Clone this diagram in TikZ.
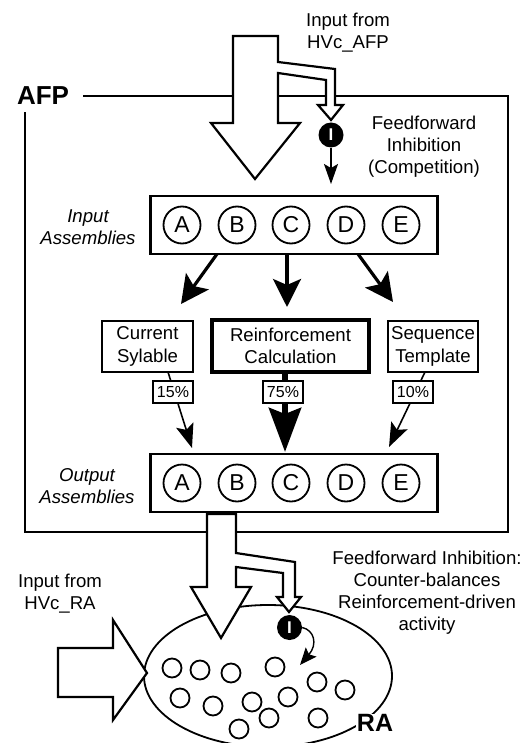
\documentclass[tikz,border=0pt]{standalone}
\usepackage{fontspec}
\setmainfont{Liberation Sans}
\usetikzlibrary{arrows.meta}

\begin{document}
\begin{tikzpicture}[x=1pt,y=-1pt,
  txt/.style={font=\fontsize{18.6}{22}\selectfont, align=center, inner sep=0pt},
  itxt/.style={txt, font=\fontsize{18.6}{22.5}\selectfont\itshape},
  big/.style={font=\fontsize{26}{28}\selectfont\bfseries, inner sep=1pt},
  asm/.style={draw, line width=2.2pt, fill=white, minimum width=287pt, minimum height=58pt, inner sep=0pt},
  unit/.style={draw, circle, line width=1.8pt, minimum size=37pt, inner sep=0pt, font=\fontsize{23}{23}\selectfont},
  module/.style={draw, line width=2.2pt, fill=white, align=center, inner sep=0pt, font=\fontsize{18.6}{22.5}\selectfont},
  pct/.style={draw, line width=1.4pt, fill=white, minimum width=40pt, minimum height=22pt, inner sep=0pt, font=\fontsize{16}{16}\selectfont},
  inh/.style={circle, fill=black, minimum size=25pt, inner sep=0pt, text=white, font=\fontsize{17}{17}\selectfont\bfseries},
  cell/.style={draw, circle, line width=1.8pt, minimum size=19pt, inner sep=0pt},
  hollow/.style={draw, line width=2.2pt, fill=white, line join=miter},
  fatarrow/.style={line width=3.2pt, -{Stealth[length=28pt, width=28pt, inset=6pt]}},
  heavyarrow/.style={line width=6.5pt, -{Stealth[length=44pt, width=32pt, inset=6pt]}},
  thinarrow/.style={line width=1.6pt, -{Stealth[length=24pt, width=18pt, inset=5pt]}},
  smallarrow/.style={line width=1.4pt, -{Stealth[length=20pt, width=14pt, inset=4pt]}},
  curlarrow/.style={line width=1.4pt, -{Stealth[length=17pt, width=14pt, inset=3pt]}}
]
\useasboundingbox (0,0) rectangle (524,743);

% ---------- AFP frame ----------
\node[big] (afp) at (43,96) {AFP};
\draw[line width=1.8pt] (83,96) -- (508,96) -- (508,532) -- (25,532) -- (25,112);

% ---------- input from HVc_AFP ----------
\node[txt] (hvcafp) at (348,33) {Input from\\HVc\_AFP};
\draw[hollow] (233,36) -- (278,36) -- (278,62) -- (335,69) -- (335,105)
  -- (343,105) -- (331,120) -- (318,105) -- (326,105) -- (326,80)
  -- (278,73) -- (278,123) -- (300,123) -- (255,179) -- (211,123)
  -- (233,123) -- cycle;
\node[inh] (inh1) at (331,135) {I};
\coordinate (inh1tip) at (331,184);
\draw[smallarrow] (inh1.south) -- (inh1tip);
\node[txt] (ffcomp) at (424,147) {Feedforward\\Inhibition\\(Competition)};

% ---------- input assemblies ----------
\node[itxt] (inlbl) at (88,227) {Input\\Assemblies};
\node[asm] (inbox) at (294,225) {};
\foreach \l/\x in {A/182,B/237,C/291,D/346,E/401}
  \node[unit] (in\l) at (\x,225) {\l};

% ---------- intermediate modules ----------
\node[module, minimum width=91pt, minimum height=51pt] (cur) at (147.5,346.5) {Current\\Sylable};
\node[module, line width=3.2pt, minimum width=157pt, minimum height=52pt] (reinf) at (290.5,346) {Reinforcement\\Calculation};
\node[module, minimum width=90pt, minimum height=51pt] (seq) at (433,346.5) {Sequence\\Template};

\coordinate (inL) at (217,254);
\coordinate (inM) at (287,254);
\coordinate (inR) at (358,254);
\coordinate (curT) at (181,304);
\coordinate (reinfT) at (287,307);
\coordinate (seqT) at (393,302);
\draw[fatarrow] (inL) -- (curT);
\draw[fatarrow] (inM) -- (reinfT);
\draw[fatarrow] (inR) -- (seqT);

% ---------- weighted projections to output ----------
\coordinate (curB) at (168,372);
\coordinate (reinfB) at (285,374);
\coordinate (seqB) at (425,372);
\coordinate (outL) at (192,448);
\coordinate (outM) at (285,452);
\coordinate (outR) at (389,447);
\draw[thinarrow] (curB) -- (outL);
\draw[heavyarrow] (reinfB) -- (outM);
\draw[thinarrow] (seqB) -- (outR);
\node[pct] (p15) at (173,392) {15\%};
\node[pct] (p75) at (283,392) {75\%};
\node[pct] (p10) at (413,392) {10\%};

% ---------- output assemblies ----------
\node[itxt] (outlbl) at (87,486) {Output\\Assemblies};
\node[asm] (outbox) at (294,483) {};
\foreach \l/\x in {A/182,B/237,C/291,D/346,E/401}
  \node[unit] (out\l) at (\x,483) {\l};

% ---------- RA ----------
\begin{scope}
  \clip (0,0) rectangle (524,743);
  \draw[line width=1.8pt] (268,676) ellipse [x radius=124pt, y radius=71pt];
\end{scope}
\node[big, fill=white, font=\fontsize{25}{27}\selectfont\bfseries, inner sep=0.5pt] (ra) at (375,723) {RA};

\foreach \x/\y in {172/668, 200/670, 231/673, 275/667, 317/682, 345/690,
                   180/698, 213/706, 252/702, 288/697, 269/718, 239/729, 318/718}
  \node[cell] at (\x,\y) {};

% projection from the output assemblies into RA
\draw[hollow] (207,514) -- (236,514) -- (236,553) -- (295,562) -- (295,597)
  -- (301,597) -- (289,612) -- (277,597) -- (283,597) -- (283,573)
  -- (236,567) -- (236,587) -- (251,587) -- (221,638) -- (191,587)
  -- (207,587) -- cycle;
\node[inh] (inh2) at (289.5,627.5) {I};
\coordinate (inh2tip) at (300,665);
\draw[curlarrow] (inh2.east) .. controls (314,630) and (318,644) .. (inh2tip);

\node[txt] (ffcb) at (427,593) {Feedforward Inhibition:\\Counter-balances\\Reinforcement-driven\\activity};

% input from HVc_RA
\node[txt] (hvcra) at (60,594) {Input from\\HVc\_RA};
\draw[hollow] (58,648) -- (113,648) -- (113,620) -- (147,673) -- (113,720)
  -- (113,697) -- (58,697) -- cycle;
\end{tikzpicture}
\end{document}
